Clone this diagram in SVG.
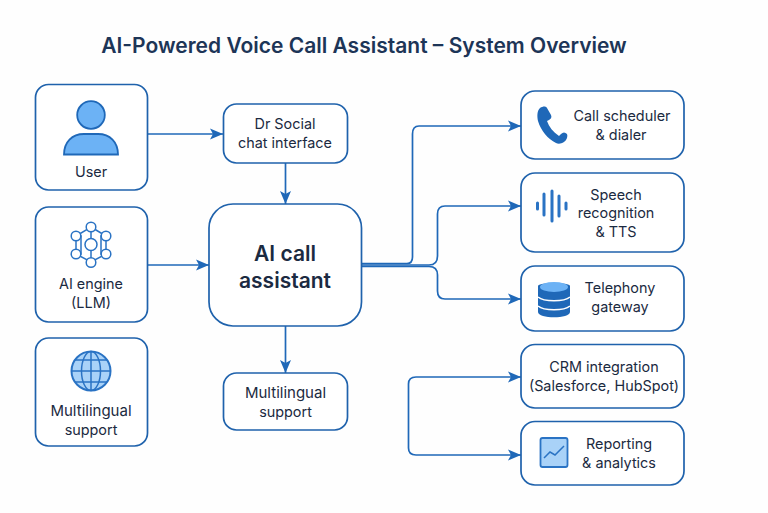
<svg xmlns="http://www.w3.org/2000/svg" width="768" height="513" viewBox="0 0 768 513">
<style>
.box{fill:#fff;stroke:#1f62ac;stroke-width:1.7}
text{font-family:Inter,"Liberation Sans",sans-serif;fill:#1b2a41;text-anchor:middle;font-size:14.4px}
.big{font-size:15px}
.head{font-size:21px;font-weight:600}
.c{fill:none;stroke:#1f68b8;stroke-width:1.7;stroke-linejoin:round}
.i{fill:#6cb2f5;stroke:#1f68b8;stroke-width:1.8}
.o{fill:#fff;stroke:#2a73c4;stroke-width:1.5}
.l{fill:none;stroke:#2a73c4;stroke-width:1.5}
</style>
<defs>
<marker id="a" markerUnits="userSpaceOnUse" markerWidth="14" markerHeight="12" refX="13" refY="6" orient="auto"><path d="M0 0.5L13 6L0 11.500L3 6Z" fill="#1f68b8"/></marker>
</defs>
<rect width="768" height="513" fill="#fefefe"/>
<text id="title" x="364" y="53" style="font-size:21px;font-weight:600;fill:#1d3557">AI-Powered Voice Call Assistant – System Overview</text>
<g id="connectors">
<path class="c" marker-end="url(#a)" d="M147.500 134H223"/>
<path class="c" marker-end="url(#a)" d="M147.500 265H209"/>
<path class="c" marker-end="url(#a)" d="M285.500 163V204"/>
<path class="c" marker-end="url(#a)" d="M285.500 326V373"/>
<path class="c" marker-end="url(#a)" d="M361.500 263.500H407Q412.500 263.500 412.500 257V134Q412.500 126 419 126H521"/>
<path class="c" marker-end="url(#a)" d="M361.500 265H429Q437.500 265 437.500 256V214Q437.500 206 445 206H521"/>
<path class="c" marker-end="url(#a)" d="M361.500 266.500H429Q437.500 266.500 437.500 275V291Q437.500 299 445 299H521"/>
<path class="c" marker-end="url(#a)" d="M408.500 416V384Q408.500 377 416 377H521"/>
<path class="c" marker-end="url(#a)" d="M408.500 416V448Q408.500 455 416 455H521"/>
</g>
<g id="user">
<rect class="box" x="35.500" y="84.500" width="112" height="105.500" rx="13"/>
<circle class="i" cx="91" cy="115" r="13.800"/>
<path class="i" d="M64 154.500C64 142 72 134 84 134H98C110 134 118 142 118 154.500Z"/>
<text x="91" y="177">User</text>
</g>
<g id="ai-engine">
<rect class="box" x="35.500" y="207" width="112" height="115" rx="13"/>
<path class="l" d="M91 227L106 236V254L91 262L76 254V236ZM76 236L81 236V254H76M106 236L101 236V254H106M91 227V238M91 262V251"/>
<circle class="o" cx="91" cy="227" r="4.800"/><circle class="o" cx="106" cy="236" r="4.800"/><circle class="o" cx="106" cy="254" r="4.800"/><circle class="o" cx="91" cy="262.500" r="4.800"/><circle class="o" cx="76" cy="254" r="4.800"/><circle class="o" cx="76" cy="236" r="4.800"/><circle class="o" cx="91" cy="244.500" r="6"/>
<text x="91" y="289">AI engine</text>
<text x="91" y="308">(LLM)</text>
</g>
<g id="multilingual-left">
<rect class="box" x="35.500" y="338" width="112" height="108" rx="13"/>
<circle cx="91" cy="371" r="19.500" fill="#a9d2f8" stroke="#2a73c4" stroke-width="2"/>
<ellipse class="l" cx="91" cy="371" rx="9.500" ry="19.500"/>
<path class="l" d="M91 351.500V390.500M71.500 371H110.500M75 360H107M75 382H107"/>
<text class="big" x="91" y="416">Multilingual</text>
<text x="91" y="435">support</text>
</g>
<g id="chat-interface">
<rect class="box" x="223.500" y="104" width="124" height="59" rx="13"/>
<text x="285" y="129">Dr Social</text>
<text x="285" y="148">chat interface</text>
</g>
<g id="ai-call-assistant">
<rect class="box" x="209" y="204" width="152.500" height="122" rx="24"/>
<text class="head" x="285" y="261">AI call</text>
<text class="head" x="285" y="288">assistant</text>
</g>
<g id="multilingual-center">
<rect class="box" x="223.500" y="373" width="124" height="57" rx="13"/>
<text class="big" x="285.500" y="398">Multilingual</text>
<text x="285.500" y="417">support</text>
</g>
<g id="call-scheduler">
<rect class="box" x="521" y="91" width="163" height="68" rx="14"/>
<path d="M540 108C543 106 546 106 547 108L551 115C552 117 551 119 549 120L547 121C549 127 553 132 559 136L561 134C563 132 565 132 567 134C568 136 567 140 564 142C561 144 558 144 556 143C548 139 541 131 538 121C537 116 537 111 540 108Z" fill="#1f68b8"/>
<text x="622" y="121">Call scheduler</text>
<text x="621" y="140">&amp; dialer</text>
</g>
<g id="speech-recognition">
<rect class="box" x="521" y="173" width="163" height="79" rx="14"/>
<g stroke="#2a73c4" stroke-width="3" stroke-linecap="round">
<path d="M537.500 203V209M544 194V215M552 191V221M559 196V216M566 203V209"/>
</g>
<text x="616" y="200">Speech</text>
<text x="616" y="218">recognition</text>
<text x="616" y="237">&amp; TTS</text>
</g>
<g id="telephony-gateway">
<rect class="box" x="521" y="266" width="163" height="65" rx="14"/>
<path d="M538 286C538 282 570 282 570 286V312C570 319 538 319 538 312Z" fill="#1f68b8"/>
<ellipse cx="554" cy="287" rx="14" ry="5" fill="#6cb2f5"/>
<path d="M538 297C544 302 564 302 570 297M538 306C544 311 564 311 570 306" fill="none" stroke="#fff" stroke-width="1.500"/>
<text x="620" y="293">Telephony</text>
<text x="620" y="312">gateway</text>
</g>
<g id="crm-integration">
<rect class="box" x="521" y="344.500" width="163" height="63.500" rx="14"/>
<text x="604" y="372">CRM integration</text>
<text x="604" y="391">(Salesforce, HubSpot)</text>
</g>
<g id="reporting">
<rect class="box" x="521" y="421.500" width="163" height="63.500" rx="14"/>
<rect x="540.500" y="438" width="27" height="29" rx="2" fill="#a9d2f8" stroke="#2a73c4" stroke-width="1.800"/>
<path class="l" d="M544 458L550 452L555 455L564 446"/>
<text x="619" y="449">Reporting</text>
<text x="619" y="468">&amp; analytics</text>
</g>
</svg>
